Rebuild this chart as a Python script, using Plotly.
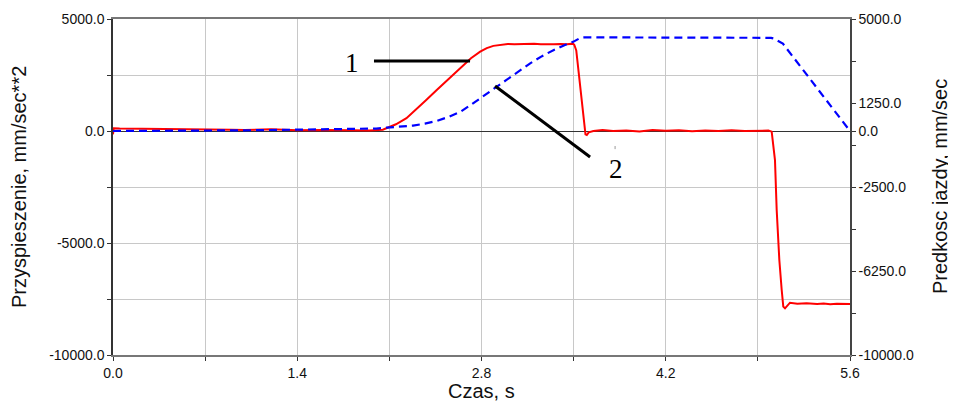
import plotly.graph_objects as go

# ---- data ----
t_acc = [0.000, 0.005, 0.05, 0.3, 0.6, 0.9, 1.0, 1.2, 1.4, 1.6, 1.8, 1.95, 2.05, 2.1, 2.15,
         2.23, 2.3, 2.38, 2.46, 2.54, 2.6, 2.66, 2.72, 2.79, 2.84, 2.89, 2.95, 3.0, 3.05,
         3.1, 3.15, 3.2, 3.25, 3.3, 3.35, 3.4, 3.45, 3.495, 3.505, 3.52, 3.54, 3.56, 3.575,
         3.59, 3.60, 3.615, 3.65, 3.68, 3.72, 3.8, 3.9, 4.0, 4.1, 4.2, 4.3, 4.4, 4.5, 4.6,
         4.7, 4.8, 4.9, 4.98, 5.005, 5.03, 5.043, 5.063, 5.081, 5.093, 5.106, 5.125, 5.144,
         5.2, 5.27, 5.35, 5.4, 5.45, 5.5, 5.6]
acc = [-150, 120, 110, 100, 90, 60, 40, 80, 30, 50, 30, 20, 60, 170, 300,
       570, 930, 1380, 1830, 2280, 2620, 2950, 3250, 3540, 3700, 3800, 3860, 3885, 3870,
       3890, 3880, 3900, 3870, 3885, 3875, 3880, 3870, 3900, 3850, 3600, 2500, 1380, 500,
       -150, -180, -60, 0, 30, 40, 0, 20, -20, 40, 10, 30, -10, 20, 0,
       30, 0, 20, 20, -30, -1300, -3530, -5760, -7100, -7840, -7915, -7780, -7665,
       -7710, -7690, -7720, -7700, -7730, -7715, -7720]

t_vel = [0.0, 0.01, 0.5, 1.0, 1.4, 1.8, 2.0, 2.08, 2.18, 2.28, 2.37, 2.46, 2.55, 2.64,
         2.72, 2.81, 2.9, 2.99, 3.08, 3.17, 3.26, 3.35, 3.43, 3.50, 3.54, 3.58, 3.62, 3.8,
         4.2, 4.6, 4.76, 4.8, 5.0, 5.02, 5.06, 5.09, 5.6]
vel = [0, 0, 10, 30, 60, 80, 110, 150, 190, 240, 330, 450, 630, 860,
       1170, 1530, 1900, 2280, 2650, 3020, 3340, 3620, 3830, 3990, 4120, 4180, 4180, 4180,
       4175, 4170, 4170, 4160, 4160, 4130, 4000, 3900, 0]

x_tickvals = [0.0, 1.4, 2.8, 4.2, 5.6]
x_ticktext = ["0.0", "1.4", "2.8", "4.2", "5.6"]
x_minor = [0.7, 2.1, 3.5, 4.9]

y1_tickvals = [5000, 0, -5000, -10000]
y1_ticktext = ["5000.0", "0.0", "-5000.0", "-10000.0"]
y1_minor = [2500, -2500, -7500]

y2_tickvals = [5000, 1250, 0, -2500, -6250, -10000]
y2_ticktext = ["5000.0", "1250.0", "0.0", "-2500.0", "-6250.0", "-10000.0"]
y2_minor = [3125, -625, -4375, -8125]

FONT = "Liberation Sans, Arial, sans-serif"
GRID = "#c8c8c8"

fig = go.Figure()
fig.add_trace(go.Scatter(x=t_acc, y=acc, mode="lines", name="1",
                         line=dict(color="#ff0000", width=2), yaxis="y"))
fig.add_trace(go.Scatter(x=t_vel, y=vel, mode="lines", name="2",
                         line=dict(color="#0000ff", width=2.2, dash="8px,5px"), yaxis="y2"))

fig.update_layout(
    width=956, height=403,
    margin=dict(l=105, r=114, t=11, b=56, autoexpand=False),
    paper_bgcolor="white", plot_bgcolor="white",
    showlegend=False,
    font=dict(family=FONT, size=14, color="#111"),
    xaxis=dict(range=[0, 5.6], tickmode="array", tickvals=x_tickvals, ticktext=x_ticktext,
               automargin=False,
               showgrid=True, gridcolor=GRID, gridwidth=1, zeroline=False,
               showline=True, linecolor="#777", linewidth=2, mirror=True,
               ticks="outside", ticklen=4, tickcolor="#333",
               minor=dict(tickmode="array", tickvals=x_minor, ticks="outside", ticklen=4,
                          tickcolor="#333", showgrid=True, gridcolor=GRID, gridwidth=1)),
    yaxis=dict(range=[-10000, 5000], tickmode="array", tickvals=y1_tickvals, ticktext=y1_ticktext,
               automargin=False,
               showgrid=True, gridcolor=GRID, gridwidth=1,
               zeroline=True, zerolinecolor="#333", zerolinewidth=1,
               showline=True, linecolor="#333", linewidth=1.5,
               ticks="outside", ticklen=4, tickcolor="#333",
               minor=dict(tickmode="array", tickvals=y1_minor, ticks="outside", ticklen=4,
                          tickcolor="#333", showgrid=True, gridcolor=GRID, gridwidth=1)),
    yaxis2=dict(range=[-10000, 5000], overlaying="y", side="right", anchor="x",
                automargin=False,
                tickmode="array", tickvals=y2_tickvals, ticktext=y2_ticktext,
                showgrid=False, zeroline=False,
                showline=True, linecolor="#444", linewidth=1.5,
                ticks="outside", ticklen=4, tickcolor="#333",
                minor=dict(tickmode="array", tickvals=y2_minor, ticks="outside", ticklen=4,
                           tickcolor="#333", showgrid=False)),
)

# axis titles
fig.add_annotation(xref="paper", yref="paper", x=0, y=0.5, xshift=-94, xanchor="center", yanchor="middle",
                   text="Przyspieszenie, mm/sec**2", textangle=-90, showarrow=False,
                   font=dict(family=FONT, size=20, color="#111"))
fig.add_annotation(xref="paper", yref="paper", x=1, y=0.5, xshift=90, xanchor="center", yanchor="middle",
                   text="Predkosc jazdy, mm/sec", textangle=-90, showarrow=False,
                   font=dict(family=FONT, size=20, color="#111"))
fig.add_annotation(xref="paper", yref="paper", x=0.5, y=0, yshift=-36, xanchor="center", yanchor="middle",
                   text="Czas, s", showarrow=False, font=dict(family=FONT, size=20, color="#111"))

# curve labels and leader lines
SERIF = "Liberation Serif, Times New Roman, serif"
fig.add_annotation(x=1.816, y=3036, xref="x", yref="y", text="1", showarrow=False,
                   font=dict(family=SERIF, size=27, color="#000"))
fig.add_annotation(x=3.822, y=-1700, xref="x", yref="y", text="2", showarrow=False,
                   font=dict(family=SERIF, size=27, color="#000"))
fig.add_shape(type="line", xref="x", yref="y", x0=1.983, y0=3125, x1=2.713, y1=3125,
              line=dict(color="#000", width=3))
fig.add_shape(type="line", xref="x", yref="y", x0=2.903, y0=2009, x1=3.625, y1=-1161,
              line=dict(color="#000", width=3))
fig.add_shape(type="line", xref="x", yref="y", x0=3.815, y0=-670, x1=3.815, y1=-810,
              line=dict(color="#999", width=1))

fig.write_html("out.html")
